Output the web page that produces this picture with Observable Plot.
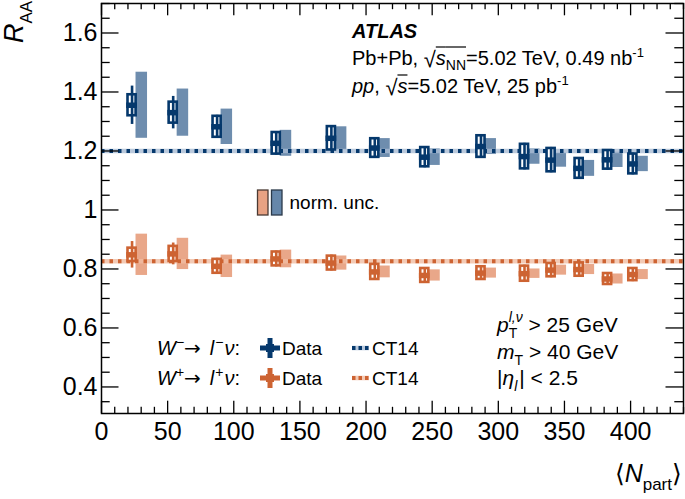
<!DOCTYPE html>
<html>
<head>
<meta charset="utf-8">
<script src="https://cdn.jsdelivr.net/npm/d3@7"></script>
<script src="https://cdn.jsdelivr.net/npm/@observablehq/plot@0.6"></script>
<style>
  html, body { margin: 0; padding: 0; background: white; }
  svg text { white-space: pre; }
</style>
</head>
<body>
<div id="chart"></div>
<script>
// ---- data ----
const npart = [23.1, 54.2, 87.4, 132.1, 173.8, 206.6, 244.4, 286.9, 319.8, 339.9, 361.1, 382.6, 401.7];

// W- -> l- nu
const wmVal  = [1.355, 1.330, 1.282, 1.226, 1.243, 1.210, 1.179, 1.215, 1.181, 1.169, 1.141, 1.170, 1.156];
const wmSys  = [0.040, 0.040, 0.040, 0.041, 0.044, 0.036, 0.037, 0.041, 0.046, 0.044, 0.038, 0.036, 0.038];
const wmStat = [0.065, 0.055, 0.030, 0.025, 0.030, 0.020, 0.020, 0.020, 0.020, 0.020, 0.020, 0.020, 0.020];
const wmUnc  = [0.112, 0.080, 0.060, 0.044, 0.039, 0.032, 0.028, 0.027, 0.026, 0.024, 0.027, 0.026, 0.026];

// W+ -> l+ nu
const wpVal  = [0.848, 0.851, 0.809, 0.834, 0.820, 0.790, 0.778, 0.786, 0.784, 0.796, 0.798, 0.766, 0.781];
const wpSys  = [0.027, 0.030, 0.028, 0.028, 0.028, 0.030, 0.028, 0.026, 0.030, 0.027, 0.027, 0.023, 0.025];
const wpStat = [0.045, 0.037, 0.020, 0.020, 0.015, 0.015, 0.015, 0.015, 0.015, 0.015, 0.015, 0.015, 0.015];
const wpUnc  = [0.070, 0.053, 0.038, 0.030, 0.024, 0.020, 0.019, 0.017, 0.016, 0.017, 0.017, 0.017, 0.017];

// CT14 predictions
const ct14Minus = 1.2;
const ct14Plus = 0.826;

// ticks
const xTicks = [0, 50, 100, 150, 200, 250, 300, 350, 400];
const yTicks = [0.4, 0.6, 0.8, 1.0, 1.2, 1.4, 1.6];

// ---- styling ----
const W = 685, H = 499;
const mL = 101, mR = 2, mT = 3, mB = 86;
const pw = W - mL - mR, ph = H - mT - mB;
const blueDark = "#05386c", blueShade = "#6687aa", blueBand = "#a9bcd3";
const orDark = "#cd6332", orShade = "#e8a283", orBand = "#f0bda3";
const FONT = "'Liberation Sans', Arial, sans-serif";

const rows = (v, s, st, u) => npart.map((x, i) => ({x, v: v[i], s: s[i], st: st[i], u: u[i]}));
const wm = rows(wmVal, wmSys, wmStat, wmUnc);
const wp = rows(wpVal, wpSys, wpStat, wpUnc);

const xMinor = d3.range(0, 441, 10).filter(d => d % 50 !== 0);
const yMinor = d3.range(35, 171, 5).map(d => d / 100).filter(d => Math.round(d * 100) % 20 !== 0);

function series(data, dark, shade, band, ct) {
  return [
    Plot.rect(data, {x1: d => d.x + 3.0, x2: d => d.x + 11.7, y1: d => d.v - d.u, y2: d => d.v + d.u, fill: shade, fillOpacity: 0.95}),
    Plot.ruleY([ct], {stroke: band, strokeWidth: 4.5, strokeOpacity: 0.8}),
    Plot.ruleY([ct], {stroke: dark, strokeWidth: 4, strokeDasharray: "3.5,5"}),
    Plot.rect(data, {x1: d => d.x - 4.05, x2: d => d.x + 4.05, y1: d => d.v - d.s, y2: d => d.v + d.s, inset: 1.3, fill: "white", stroke: dark, strokeWidth: 2.6}),
    Plot.ruleX(data, {x: "x", y1: d => d.v - Math.max(d.st, d.s - 0.001), y2: d => d.v + Math.max(d.st, d.s - 0.001), stroke: dark, strokeWidth: 2.6}),
    Plot.ruleY(data, {y: "v", x1: d => d.x - 4.05, x2: d => d.x + 4.05, stroke: dark, strokeWidth: 5.5})
  ];
}

const svg = Plot.plot({
  width: W, height: H,
  marginLeft: mL, marginRight: mR, marginTop: mT, marginBottom: mB,
  style: {fontFamily: FONT, fontSize: "25px", background: "white", color: "black", overflow: "visible"},
  x: {domain: [0, 440], axis: null},
  y: {domain: [0.31, 1.7], axis: null},
  marks: [
    ...series(wm, blueDark, blueShade, blueBand, ct14Minus),
    ...series(wp, orDark, orShade, orBand, ct14Plus),
    // inward ticks
    Plot.tickY(yTicks, {y: d => d, insetRight: pw - 17.5, stroke: "black", strokeWidth: 1.3}),
    Plot.tickY(yTicks, {y: d => d, insetLeft: pw - 17.5, stroke: "black", strokeWidth: 1.3}),
    Plot.tickY(yMinor, {y: d => d, insetRight: pw - 8.7, stroke: "black", strokeWidth: 1.3}),
    Plot.tickY(yMinor, {y: d => d, insetLeft: pw - 8.7, stroke: "black", strokeWidth: 1.3}),
    Plot.tickX(xTicks, {x: d => d, insetTop: ph - 12.3, stroke: "black", strokeWidth: 1.3}),
    Plot.tickX(xTicks, {x: d => d, insetBottom: ph - 12.3, stroke: "black", strokeWidth: 1.3}),
    Plot.tickX(xMinor, {x: d => d, insetTop: ph - 6.2, stroke: "black", strokeWidth: 1.3}),
    Plot.tickX(xMinor, {x: d => d, insetBottom: ph - 6.2, stroke: "black", strokeWidth: 1.3}),
    Plot.frame({stroke: "black", strokeWidth: 1.5}),
    Plot.axisY(yTicks, {anchor: "left", tickSize: 0, tickPadding: 4, fontSize: 25, label: null, tickFormat: d => d === 1 ? "1" : d.toFixed(1)}),
    Plot.axisX(xTicks, {anchor: "bottom", tickSize: 0, tickPadding: 9, fontSize: 25, label: null, tickFormat: d => String(d)})
  ]
});

document.getElementById("chart").appendChild(svg);
const root = d3.select(svg);

// ---- rich text helper ----
function rich(x, y, runs, opts = {}) {
  const g = root.append("g").attr("text-anchor", "start");
  let cx = 0, lastStart = 0;
  for (const r of runs) {
    const size = r.size || 19;
    const sx = (r.stack ? lastStart : cx) + (r.pre || 0);
    const t = g.append("text")
      .attr("x", sx).attr("y", r.dy || 0)
      .attr("text-anchor", "start")
      .attr("font-size", size)
      .attr("font-style", r.italic ? "italic" : "normal")
      .attr("font-weight", r.bold ? "bold" : "normal")
      .attr("fill", r.fill || "black")
      .attr("font-family", r.family || FONT)
      .text(r.t);
    const w = t.node().getComputedTextLength();
    if (r.over) {
      g.append("line").attr("x1", sx - (r.padL || 0)).attr("x2", sx + w + (r.padR || 0))
        .attr("y1", -r.over).attr("y2", -r.over).attr("stroke", "black").attr("stroke-width", 1.2);
    }
    if (!r.stack) { lastStart = sx; cx = sx + w + (r.gap || 0); }
    else { cx = Math.max(cx, sx + w + (r.gap || 0)); }
  }
  const ox = opts.end ? x - cx : x;
  g.attr("transform", `translate(${ox},${y})`);
  return g;
}

// header texts
rich(352, 38, [{t: "ATLAS", bold: true, italic: true, size: 20}]);
rich(352, 65, [
  {t: "Pb+Pb, ", size: 20}, {t: "√", size: 22, dy: 2},
  {t: "s", italic: true, size: 20, over: 18}, {t: "NN", size: 14, dy: 5, over: 18},
  {t: "=5.02 TeV, 0.49 nb", size: 20}, {t: "-1", size: 13, dy: -8}
]);
rich(352, 93, [
  {t: "pp", italic: true, size: 20}, {t: ", ", size: 20}, {t: "√", size: 22, dy: 2},
  {t: "s", italic: true, size: 20, over: 18},
  {t: "=5.02 TeV, 25 pb", size: 20}, {t: "-1", size: 13, dy: -8}
]);

// norm. unc. legend
root.append("rect").attr("x", 257.5).attr("y", 190).attr("width", 10.5).attr("height", 25)
  .attr("fill", orShade).attr("stroke", "#4a3a33").attr("stroke-width", 1.3);
root.append("rect").attr("x", 271.5).attr("y", 190).attr("width", 10.5).attr("height", 25)
  .attr("fill", blueShade).attr("stroke", "#2b3a4a").attr("stroke-width", 1.3);
rich(289.5, 209, [{t: "norm. unc."}]);

// data / CT14 legend
function legendRow(y, sign, dark, band) {
  rich(157, y + 7, [
    {t: "W", italic: true, size: 20}, {t: sign, size: 14, dy: -8},
    {t: "→", size: 20, family: "'DejaVu Sans', sans-serif", gap: 9},
    {t: "l", italic: true, size: 20, gap: 1}, {t: sign, size: 14, dy: -8, gap: 1},
    {t: "ν", italic: true, size: 20}, {t: ":", size: 20}
  ]);
  root.append("rect").attr("x", 260).attr("y", y - 2.5).attr("width", 20).attr("height", 5).attr("fill", dark);
  root.append("rect").attr("x", 267.5).attr("y", y - 10).attr("width", 5).attr("height", 20).attr("fill", dark);
  root.append("rect").attr("x", 266).attr("y", y - 4).attr("width", 8).attr("height", 8).attr("fill", dark);
  rich(282, y + 7, [{t: "Data"}]);
  root.append("line").attr("x1", 352).attr("x2", 369).attr("y1", y).attr("y2", y)
    .attr("stroke", band).attr("stroke-width", 4.5).attr("stroke-opacity", 0.8);
  root.append("line").attr("x1", 352).attr("x2", 369).attr("y1", y).attr("y2", y)
    .attr("stroke", dark).attr("stroke-width", 4).attr("stroke-dasharray", "3.5,3");
  rich(372, y + 7, [{t: "CT14"}]);
}
legendRow(348, "−", blueDark, blueBand);
legendRow(378, "+", orDark, orBand);

// cuts
rich(497, 332, [
  {t: "p", italic: true, size: 21}, {t: "l,ν", size: 14, italic: true, dy: -10},
  {t: "T", size: 14, dy: 6, stack: true}, {t: " > 25 GeV", size: 21}
]);
rich(497, 359, [{t: "m", italic: true, size: 21}, {t: "T", size: 14, dy: 6}, {t: " > 40 GeV", size: 21}]);
rich(497, 385, [{t: "|", size: 21}, {t: "η", italic: true, size: 21}, {t: "l", size: 14, italic: true, dy: 6, gap: 2}, {t: "| < 2.5", size: 21}]);

// axis titles
rich(682, 482, [
  {t: "⟨", size: 25}, {t: "N", italic: true, size: 25}, {t: "part", size: 17, dy: 8}, {t: "⟩", size: 25}
], {end: true});
const yl = rich(0, 0, [{t: "R", italic: true, size: 27}, {t: "AA", size: 17, dy: 9}]);
yl.attr("transform", "translate(23,43) rotate(-90)");
</script>
</body>
</html>
